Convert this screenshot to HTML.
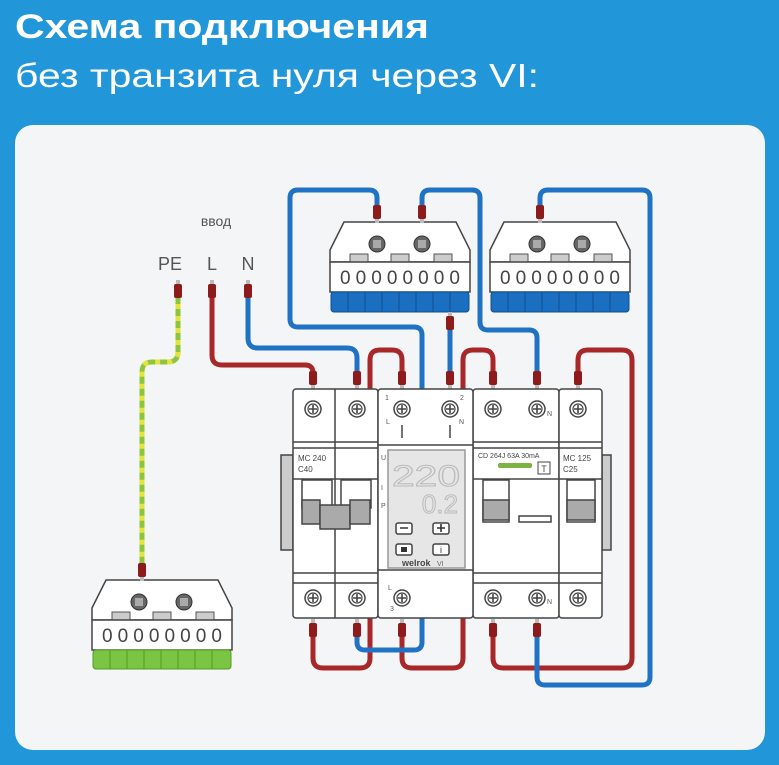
<!DOCTYPE html>
<html><head><meta charset="utf-8"><style>
html,body{margin:0;padding:0;width:779px;height:765px;overflow:hidden;background:#2196d9;}
svg{display:block}
</style></head><body>
<svg width="779" height="765" viewBox="0 0 779 765" xmlns="http://www.w3.org/2000/svg" font-family="Liberation Sans, DejaVu Sans, sans-serif">
<defs>
<g id="scr"><circle r="8" fill="#fff" stroke="#444" stroke-width="1.5"/><circle r="5" fill="none" stroke="#444" stroke-width="1.2"/><path d="M-4 0H4M0 -4V4" stroke="#444" stroke-width="1.6"/></g>
<g id="fer"><rect x="-4" y="-7" width="8" height="14" rx="2" fill="#8e1b1b"/><rect x="-2" y="7" width="4" height="4" fill="#bbb"/></g>
<g id="ferB"><rect x="-4" y="-7" width="8" height="14" rx="2" fill="#8e1b1b"/><rect x="-2" y="-11" width="4" height="4" fill="#bbb"/></g>
<g id="blk">
 <path d="M0 28 L14 0 H126 L140 28 V40 H0Z" fill="#fff" stroke="#444" stroke-width="1.5"/>
 <circle cx="47" cy="22" r="8" fill="#666" stroke="#333"/><rect x="43" y="18" width="8" height="8" fill="#aaa"/>
 <circle cx="92" cy="22" r="8" fill="#666" stroke="#333"/><rect x="88" y="18" width="8" height="8" fill="#aaa"/>
 <rect x="20" y="32" width="18" height="8" fill="#ccc" stroke="#555" stroke-width="1"/>
 <rect x="61" y="32" width="18" height="8" fill="#ccc" stroke="#555" stroke-width="1"/>
 <rect x="104" y="32" width="18" height="8" fill="#ccc" stroke="#555" stroke-width="1"/>
 <rect x="0" y="40" width="140" height="30" fill="#fff" stroke="#444" stroke-width="1.5"/>
 <text x="70" y="62" font-size="19" text-anchor="middle" fill="#444" textLength="120" lengthAdjust="spacing">00000000</text>
</g>
</defs>
<rect width="779" height="765" fill="#2196d9"/>
<text x="15" y="38" font-size="34" font-weight="bold" fill="#fff" textLength="414" lengthAdjust="spacingAndGlyphs">Схема подключения</text>
<text x="15" y="87" font-size="33" fill="#fff" textLength="524" lengthAdjust="spacingAndGlyphs">без транзита нуля через VI:</text>
<rect x="15" y="125" width="750" height="625" rx="18" fill="#f3f5f7"/>

<text x="216" y="226" font-size="14" fill="#555" text-anchor="middle">ввод</text>
<text x="170" y="270" font-size="18" fill="#555" text-anchor="middle">PE</text>
<text x="212" y="270" font-size="18" fill="#555" text-anchor="middle">L</text>
<text x="248" y="270" font-size="18" fill="#555" text-anchor="middle">N</text>

<use href="#blk" x="330" y="222"/>
<g fill="#1a6fc0" stroke="#0e4f90" stroke-width="1"><rect x="331" y="292" width="138" height="20" rx="3"/></g>
<path d="M348 292V312M365 292V312M382 292V312M399 292V312M416 292V312M433 292V312M450 292V312" stroke="#0e4f90"/>
<use href="#blk" x="490" y="222"/>
<g fill="#1a6fc0" stroke="#0e4f90" stroke-width="1"><rect x="491" y="292" width="138" height="20" rx="3"/></g>
<path d="M508 292V312M525 292V312M542 292V312M559 292V312M576 292V312M593 292V312M610 292V312" stroke="#0e4f90"/>
<use href="#blk" x="92" y="580"/>
<g fill="#7cc544" stroke="#4f9a25" stroke-width="1"><rect x="93" y="650" width="138" height="19" rx="3"/></g>
<path d="M110 650V669M127 650V669M144 650V669M161 650V669M178 650V669M195 650V669M212 650V669" stroke="#4f9a25"/>

<g fill="none" stroke-width="5" stroke-linejoin="round">
 <path d="M178 292V352Q178 362 168 362H152Q142 362 142 372V572" stroke="#8cc63f"/>
 <path d="M178 292V352Q178 362 168 362H152Q142 362 142 372V572" stroke="#e4e43a" stroke-dasharray="5 7"/>
 <g stroke="#a8282a">
  <path d="M212 292V355Q212 365 222 365H305Q313 365 313 373V384"/>
  <path d="M370 392V360Q370 350 380 350H392Q402 350 402 360V384"/>
  <path d="M463 392V360Q463 350 473 350H483Q493 350 493 360V384"/>
  <path d="M578 384V360Q578 350 588 350H622Q632 350 632 360V658Q632 668 622 668H503Q493 668 493 658V625"/>
  <path d="M313 625V658Q313 668 323 668H360Q370 668 370 658V612"/>
  <path d="M402 625V658Q402 668 412 668H453Q463 668 463 658V612"/>
 </g>
 <g stroke="#1f72c4">
  <path d="M248 292V338Q248 348 258 348H347Q357 348 357 358V384"/>
  <path d="M377 215V198Q377 190 369 190H298Q290 190 290 198V319Q290 327 298 327H414Q422 327 422 335V392"/>
  <path d="M422 215V198Q422 190 430 190H472Q480 190 480 198V322Q480 330 488 330H529Q537 330 537 338V384"/>
  <path d="M450 318V384"/>
  <path d="M540 215V198Q540 190 548 190H642Q650 190 650 198V677Q650 685 642 685H545Q537 685 537 677V625"/>
  <path d="M357 625V642Q357 650 365 650H414Q422 650 422 642V612"/>
 </g>
</g>
<use href="#ferB" x="178" y="291"/><use href="#ferB" x="212" y="291"/><use href="#ferB" x="248" y="291"/>
<use href="#fer" x="377" y="212"/><use href="#fer" x="422" y="212"/><use href="#fer" x="540" y="212"/>
<use href="#ferB" x="450" y="323"/>
<use href="#fer" x="142" y="570"/>
<g><use href="#fer" x="313" y="378"/><use href="#fer" x="357" y="378"/><use href="#fer" x="402" y="378"/><use href="#fer" x="450" y="378"/><use href="#fer" x="493" y="378"/><use href="#fer" x="537" y="378"/><use href="#fer" x="578" y="378"/></g>
<g><use href="#ferB" x="313" y="630"/><use href="#ferB" x="357" y="630"/><use href="#ferB" x="402" y="630"/><use href="#ferB" x="493" y="630"/><use href="#ferB" x="537" y="630"/></g>

<g stroke="#444" stroke-width="1.5" fill="#fff">
 <rect x="281" y="455" width="12" height="95" fill="#ccc"/>
 <rect x="602" y="455" width="9" height="95" fill="#ccc"/>
 <rect x="293" y="389" width="85" height="229" rx="3"/>
 <line x1="335" y1="389" x2="335" y2="618"/>
 <line x1="293" y1="442" x2="378" y2="442"/><line x1="293" y1="448" x2="378" y2="448"/>
 <line x1="293" y1="479" x2="378" y2="479"/>
 <line x1="293" y1="573" x2="378" y2="573"/><line x1="293" y1="583" x2="378" y2="583"/>
 <rect x="302" y="480" width="30" height="28" fill="#fff"/><rect x="341" y="480" width="30" height="28" fill="#fff"/>
 <rect x="302" y="500" width="18" height="24" fill="#aaa"/><rect x="320" y="505" width="30" height="24" fill="#aaa"/><rect x="350" y="500" width="20" height="24" fill="#aaa"/>
 <rect x="473" y="389" width="86" height="229" rx="3"/>
 <line x1="473" y1="442" x2="559" y2="442"/><line x1="473" y1="448" x2="559" y2="448"/><line x1="473" y1="479" x2="559" y2="479"/>
 <line x1="473" y1="573" x2="559" y2="573"/><line x1="473" y1="583" x2="559" y2="583"/>
 <rect x="483" y="480" width="26" height="42" fill="#fff"/><rect x="483" y="500" width="26" height="20" fill="#aaa"/>
 <rect x="519" y="516" width="32" height="6" fill="#fff"/>
 <rect x="559" y="389" width="43" height="229" rx="3"/>
 <line x1="559" y1="442" x2="602" y2="442"/><line x1="559" y1="448" x2="602" y2="448"/><line x1="559" y1="479" x2="602" y2="479"/>
 <line x1="559" y1="573" x2="602" y2="573"/><line x1="559" y1="583" x2="602" y2="583"/>
 <rect x="567" y="480" width="28" height="42" fill="#fff"/><rect x="567" y="500" width="28" height="20" fill="#aaa"/>
 <rect x="378" y="389" width="95" height="229" rx="3"/>
 <line x1="378" y1="445" x2="473" y2="445"/><line x1="378" y1="570" x2="473" y2="570"/>
 <rect x="388" y="450" width="77" height="118" fill="#e6e6e6" stroke="#999"/>
 <rect x="396" y="523" width="16" height="11" rx="2" fill="#fff"/><rect x="433" y="523" width="16" height="11" rx="2" fill="#fff"/>
 <rect x="396" y="544" width="16" height="11" rx="2" fill="#fff"/><rect x="433" y="544" width="16" height="11" rx="2" fill="#fff"/>
 <line x1="402" y1="425" x2="402" y2="438"/><line x1="450" y1="425" x2="450" y2="438"/>
</g>
<rect x="498" y="463" width="34" height="5" rx="2" fill="#7cb342"/>
<rect x="538" y="462" width="12" height="12" fill="#fff" stroke="#444"/>
<text x="544" y="472" font-size="9" text-anchor="middle" fill="#444">T</text>
<text x="298" y="461" font-size="8" fill="#444">MC 240</text><text x="298" y="472" font-size="8" fill="#444">C40</text>
<text x="478" y="458" font-size="7" fill="#444">CD 264J 63A 30mA</text>
<text x="563" y="461" font-size="8" fill="#444">MC 125</text><text x="563" y="472" font-size="8" fill="#444">C25</text>
<text x="426" y="486" font-size="30" fill="none" stroke="#bbb" text-anchor="middle" textLength="68" lengthAdjust="spacingAndGlyphs">220</text>
<text x="440" y="513" font-size="26" fill="none" stroke="#bbb" text-anchor="middle">0.2</text>
<path d="M400 528H408M437 528H445M441 524V532" stroke="#333" stroke-width="1.6"/>
<rect x="401" y="547" width="6" height="5" fill="#333"/>
<text x="441" y="553" font-size="9" fill="#333" text-anchor="middle">i</text>
<text x="402" y="566" font-size="9" font-weight="bold" fill="#444">welrok</text><text x="437" y="566" font-size="7" fill="#666">VI</text>
<text x="385" y="400" font-size="7" fill="#555">1</text><text x="386" y="424" font-size="7" fill="#555">L</text>
<text x="460" y="400" font-size="7" fill="#555">2</text><text x="459" y="424" font-size="7" fill="#555">N</text>
<text x="388" y="590" font-size="7" fill="#555">L</text><text x="390" y="611" font-size="7" fill="#555">3</text>
<text x="381" y="460" font-size="7" fill="#555">U</text><text x="381" y="490" font-size="7" fill="#555">I</text><text x="381" y="508" font-size="7" fill="#555">P</text>
<text x="547" y="416" font-size="7" fill="#555">N</text><text x="547" y="604" font-size="7" fill="#555">N</text>
<g>
 <use href="#scr" x="313" y="409"/><use href="#scr" x="357" y="409"/><use href="#scr" x="402" y="409"/><use href="#scr" x="450" y="409"/><use href="#scr" x="493" y="409"/><use href="#scr" x="537" y="409"/><use href="#scr" x="578" y="409"/>
 <use href="#scr" x="313" y="598"/><use href="#scr" x="357" y="598"/><use href="#scr" x="402" y="598"/><use href="#scr" x="493" y="598"/><use href="#scr" x="537" y="598"/><use href="#scr" x="578" y="598"/>
</g>
</svg>
</body></html>
